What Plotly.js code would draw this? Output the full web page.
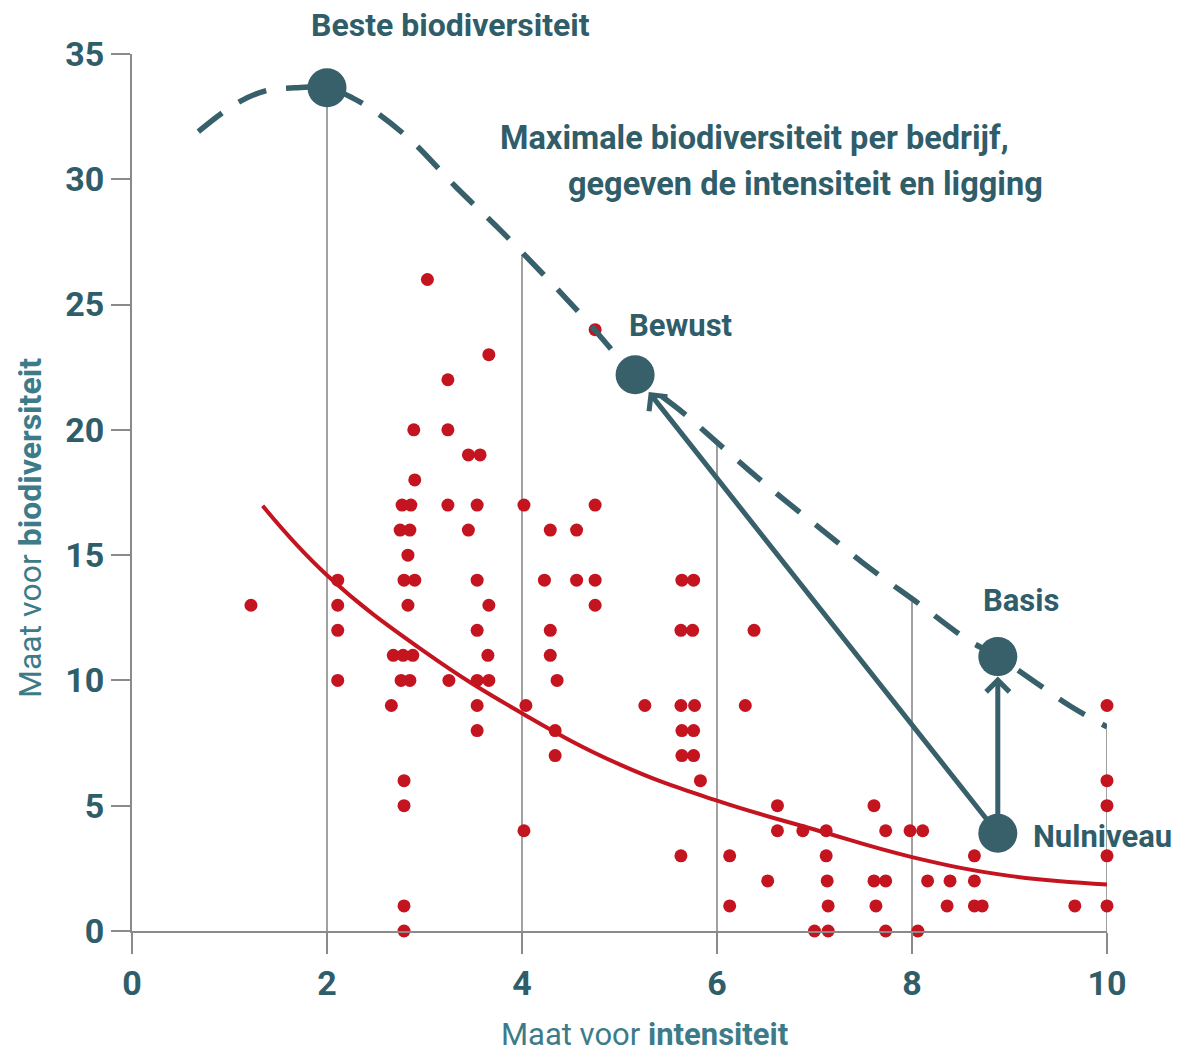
<!DOCTYPE html>
<html>
<head>
<meta charset="utf-8">
<script src="https://cdn.plot.ly/plotly-3.0.1.min.js"></script>
<style>
  html, body { margin: 0; padding: 0; background: #ffffff; }
  #chart { width: 1184px; height: 1057px; }
</style>
</head>
<body>
<div id="chart"></div>
<script>
// ---- Data ----
// Farms (red dots): intensity vs biodiversity
const farmX = [1.22,
  2.11, 2.11, 2.11, 2.11,
  2.68, 2.66,
  2.89, 2.90, 2.77, 2.86, 2.75, 2.85, 2.83, 2.79, 2.90, 2.83, 2.78, 2.88, 2.76, 2.85, 2.79, 2.79, 2.79, 2.79,
  3.03,
  3.24, 3.24, 3.24, 3.25,
  3.45, 3.45,
  3.57, 3.54, 3.54, 3.54, 3.54, 3.54, 3.54,
  3.66, 3.66, 3.65, 3.66,
  4.02, 4.04, 4.02,
  4.23,
  4.29, 4.29, 4.29,
  4.36, 4.34, 4.34,
  4.56, 4.56,
  4.75, 4.75, 4.75, 4.75,
  5.26,
  5.64, 5.63, 5.63, 5.64, 5.64, 5.63,
  5.76, 5.75, 5.77, 5.76, 5.76,
  5.83,
  6.13, 6.13,
  6.29, 6.38, 6.52, 6.62, 6.62, 6.88, 7.00,
  7.12, 7.12, 7.13, 7.14, 7.14,
  7.61, 7.61, 7.63,
  7.73, 7.73, 7.73,
  7.98, 8.06, 8.11, 8.16, 8.39, 8.36,
  8.64, 8.64, 8.64, 8.72,
  9.67,
  10, 10, 10, 10, 10];
const farmY = [13,
  14, 13, 12, 10,
  11, 9,
  20, 18, 17, 17, 16, 16, 15, 14, 14, 13, 11, 11, 10, 10, 6, 5, 1, 0,
  26,
  22, 20, 17, 10,
  19, 16,
  19, 17, 14, 12, 10, 9, 8,
  23, 13, 11, 10,
  17, 9, 4,
  14,
  16, 12, 11,
  10, 8, 7,
  16, 14,
  24, 17, 14, 13,
  9,
  14, 12, 9, 8, 7, 3,
  14, 12, 9, 8, 7,
  6,
  3, 1,
  9, 12, 2, 5, 4, 4, 0,
  4, 3, 2, 1, 0,
  5, 2, 1,
  4, 2, 0,
  4, 0, 4, 2, 2, 1,
  3, 2, 1, 1,
  1,
  9, 6, 5, 3, 1];

// Average trend (red curve)
const trendX = [1.34, 2.0, 3.0, 4.0, 5.0, 6.0, 7.0, 8.0, 9.0, 10.0];
const trendY = [16.97, 14.2, 11.15, 8.69, 6.65, 5.2, 4.05, 2.95, 2.2, 1.86];

// Maximum biodiversity frontier (dashed teal curve)
const frontX = [0.68, 1.06, 1.36, 1.67, 2.0, 2.26, 2.53, 2.89, 3.32, 3.77, 4.22, 4.63, 5.16, 5.65, 6.12, 6.6, 7.08, 7.56, 8.07, 8.57, 8.88, 9.63, 10.0];
const frontY = [31.9, 33.0, 33.52, 33.65, 33.65, 33.25, 32.6, 31.45, 29.7, 28.0, 26.2, 24.5, 22.2, 20.69, 19.09, 17.49, 16.0, 14.5, 13.06, 11.62, 10.95, 8.96, 8.15];

// Drop lines from the frontier to the x axis
const dropX = [2, 4, 6, 8, 10];
const dropTop = [33.65, 27.0, 19.4, 13.15, 8.15];

// Key levels (big teal dots)
const levelNames = ["Beste biodiversiteit", "Bewust", "Basis", "Nulniveau"];
const levelX = [2.0, 5.16, 8.88, 8.88];
const levelY = [33.65, 22.2, 10.95, 3.9];

// Axis ticks
const xTicks = [0, 2, 4, 6, 8, 10];
const yTicks = [0, 5, 10, 15, 20, 25, 30, 35];

// ---- Styling ----
const TEAL = "#38606a";
const TEXT = "#2f5d69";
const TITLE = "#3d7b89";
const RED = "#c3141f";
const GRID = "#8a8a8a";
const FONT = "Roboto, 'Noto Sans', sans-serif";

// build drop-line segments from data
const dX = [], dY = [];
dropX.forEach((x, i) => { dX.push(x, x, null); dY.push(dropTop[i], 0, null); });

const traces = [
  { x: dX, y: dY, mode: "lines", line: { color: GRID, width: 1.6 }, hoverinfo: "skip", cliponaxis: false },
  { x: farmX, y: farmY, mode: "markers", marker: { color: RED, size: 13 }, cliponaxis: false, name: "bedrijven" },
  { x: trendX, y: trendY, mode: "lines", line: { color: RED, width: 4, shape: "spline", smoothing: 1.2 }, cliponaxis: false },
  { x: frontX, y: frontY, mode: "lines", line: { color: TEAL, width: 5.5, dash: "30px,20px", shape: "spline", smoothing: 1 }, cliponaxis: false },
  { x: levelX, y: levelY, text: levelNames, mode: "markers", marker: { color: TEAL, size: 39 }, cliponaxis: false }
];

const txt = (text, x, y, xanchor, size, yref) => ({
  text: text, x: x, y: y, xref: "x", yref: yref || "y", showarrow: false,
  xanchor: xanchor, yanchor: "middle",
  font: { family: FONT, size: size, color: TEXT, weight: "bold" }
});

const annotations = [
  txt(levelNames[0], 3.27, 1.033, "center", 32, "paper"),
  txt("Maximale biodiversiteit per bedrijf,", 3.75, 31.63, "left", 32.5),
  txt("gegeven de intensiteit en ligging", 9.36, 29.83, "right", 32.5),
  txt(levelNames[1], 5.08, 24.16, "left", 31),
  txt(levelNames[2], 8.71, 13.18, "left", 31),
  txt(levelNames[3], 9.22, 3.79, "left", 31),
  // axis titles
  { text: "Maat voor <b>biodiversiteit</b>", xref: "paper", yref: "paper", x: -0.1046, y: 0.4595,
    xanchor: "center", yanchor: "middle", textangle: -90, showarrow: false,
    font: { family: FONT, size: 32, color: TITLE } },
  { text: "Maat voor <b>intensiteit</b>", xref: "paper", yref: "paper", x: 0.526, y: -0.1175,
    xanchor: "center", yanchor: "middle", showarrow: false,
    font: { family: FONT, size: 31, color: TITLE } },
  // arrows: Nulniveau -> Bewust, Nulniveau -> Basis
  { x: levelX[1], y: levelY[1], ax: levelX[3], ay: levelY[3], xref: "x", yref: "y", axref: "x", ayref: "y",
    text: "", showarrow: true, arrowhead: 4, arrowsize: 0.9, arrowwidth: 5, arrowcolor: TEAL, standoff: 22, startstandoff: 10 },
  { x: levelX[2], y: levelY[2], ax: levelX[3], ay: levelY[3], xref: "x", yref: "y", axref: "x", ayref: "y",
    text: "", showarrow: true, arrowhead: 4, arrowsize: 0.9, arrowwidth: 5, arrowcolor: TEAL, standoff: 20, startstandoff: 10 }
];

const layout = {
  width: 1184, height: 1057,
  margin: { l: 132, r: 77, t: 54, b: 126 },
  paper_bgcolor: "#ffffff", plot_bgcolor: "#ffffff",
  showlegend: false,
  hovermode: false,
  xaxis: {
    range: [0, 10], tickvals: xTicks, ticktext: xTicks.map(String),
    showgrid: false, zeroline: false, showline: true, linecolor: GRID, linewidth: 2,
    ticks: "outside", ticklen: 21, tickwidth: 2, tickcolor: GRID,
    tickfont: { family: FONT, size: 34, color: TEXT, weight: "bold" },
    automargin: false
  },
  yaxis: {
    range: [0, 35], tickvals: yTicks, ticktext: yTicks.map(String),
    showgrid: false, zeroline: false, showline: true, linecolor: GRID, linewidth: 2,
    ticks: "outside", ticklen: 19, tickwidth: 2, tickcolor: GRID,
    tickfont: { family: FONT, size: 34, color: TEXT, weight: "bold" },
    automargin: false
  },
  annotations: annotations
};

Plotly.newPlot("chart", traces, layout, { displayModeBar: false, staticPlot: true });
</script>
</body>
</html>
